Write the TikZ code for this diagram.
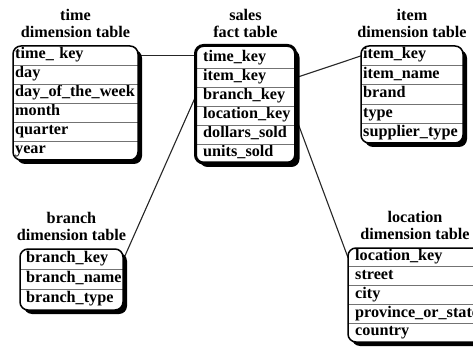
\documentclass[tikz,border=0pt]{standalone}
\usepackage{fontspec}
\setmainfont{Liberation Serif}
\usetikzlibrary{backgrounds}
\newcommand\tabfont{\fontsize{16.2}{17}\selectfont\bfseries}
\tikzset{
  cell/.style={anchor=north west, inner ysep=0pt, text height=10.5pt, text depth=4.5pt, align=left, font=\tabfont},
  sep/.style={draw=black!55, line width=0.9pt},
  shadowbox/.style={fill=black, rounded corners=8pt},
  tabtitle/.style={anchor=south, inner sep=0pt, align=center, font=\tabfont},
  link/.style={draw=black!85, line width=1.1pt},
}
% \dbtable{prefix}{title}{rows}
\newcommand\dbtable[3]{%
  \pgfmathsetlengthmacro\tabTW{(\tabR)-(\tabL)-2*(\tabP)}%
  \pgfmathsetlengthmacro\tabPP{\tabP}%
  \fill[shadowbox] (\tabL+4,\tabT+4) rectangle (\tabR+4,\tabB+4);
  \fill[white, rounded corners=8pt] (\tabL,\tabT) rectangle (\tabR,\tabB);
  \begin{scope}
    \clip[rounded corners=8pt] (\tabL,\tabT) rectangle (\tabR,\tabB);
    \foreach \nm/\tx [count=\i] in {#3} {
      \node[cell, minimum height=\tabH pt, text width=\tabTW, inner xsep=\tabPP]
        (#1-\nm) at (\tabL,{\tabRT+(\i-1)*\tabH}) {\tx};
      \ifnum\i>1 \draw[sep] (#1-\nm.north west) -- (#1-\nm.north east);\fi
    }
  \end{scope}
  \draw[line width=\tabBW, rounded corners=8pt] (\tabL,\tabT) rectangle (\tabR,\tabB);
  \node[tabtitle] (#1-title) at ({(\tabL+\tabR)/2},\tabT-8) {#2};
}
\begin{document}
\begin{tikzpicture}[x=1pt,y=-1pt]
\useasboundingbox (0,0) rectangle (473,347);

% time dimension table
\def\tabL{13}\def\tabT{46}\def\tabR{138}\def\tabB{160}\def\tabRT{46}\def\tabH{19}\def\tabP{2}\def\tabBW{1.5pt}
\dbtable{t}{time\\dimension table}{timekey/time\_ key, day/day, dow/day\_of\_the\_week, month/month, quarter/quarter, year/year}

% sales fact table
\def\tabL{195.5}\def\tabT{45.5}\def\tabR{295.5}\def\tabB{163}\def\tabRT{49}\def\tabH{19}\def\tabP{7.5}\def\tabBW{3pt}
\dbtable{s}{sales\\fact table}{timekey/time\_key, itemkey/item\_key, branchkey/branch\_key, lockey/location\_key, dollars/dollars\_sold, units/units\_sold}

% item dimension table
\def\tabL{361}\def\tabT{46}\def\tabR{463}\def\tabB{143}\def\tabRT{46}\def\tabH{19.4}\def\tabP{2}\def\tabBW{1.5pt}
\dbtable{i}{item\\dimension table}{itemkey/item\_key, itemname/item\_name, brand/brand, type/type, supplier/supplier\_type}

% branch dimension table
\def\tabL{20}\def\tabT{249}\def\tabR{123}\def\tabB{310}\def\tabRT{249}\def\tabH{20.3}\def\tabP{6}\def\tabBW{1.5pt}
\dbtable{b}{branch\\dimension table}{branchkey/branch\_key, branchname/branch\_name, branchtype/branch\_type}

% location dimension table
\def\tabL{348}\def\tabT{248}\def\tabR{482}\def\tabB{342}\def\tabRT{248}\def\tabH{18.8}\def\tabP{7}\def\tabBW{1.5pt}
\dbtable{l}{location\\dimension table}{lockey/location\_key, street/street, city/city, province/province\_or\_state, country/country}

\begin{scope}[on background layer]
  \draw[link] (t-timekey.east) -- (t-timekey.east -| s-timekey.west);
  \draw[link] (s-itemkey.east) -- (i-itemkey.west);
  \draw[link] (s-branchkey.west) -- (b-branchkey.east);
  \draw[link] ([yshift=-2pt]s-lockey.east) -- (l-lockey.west);
\end{scope}
\end{tikzpicture}
\end{document}
